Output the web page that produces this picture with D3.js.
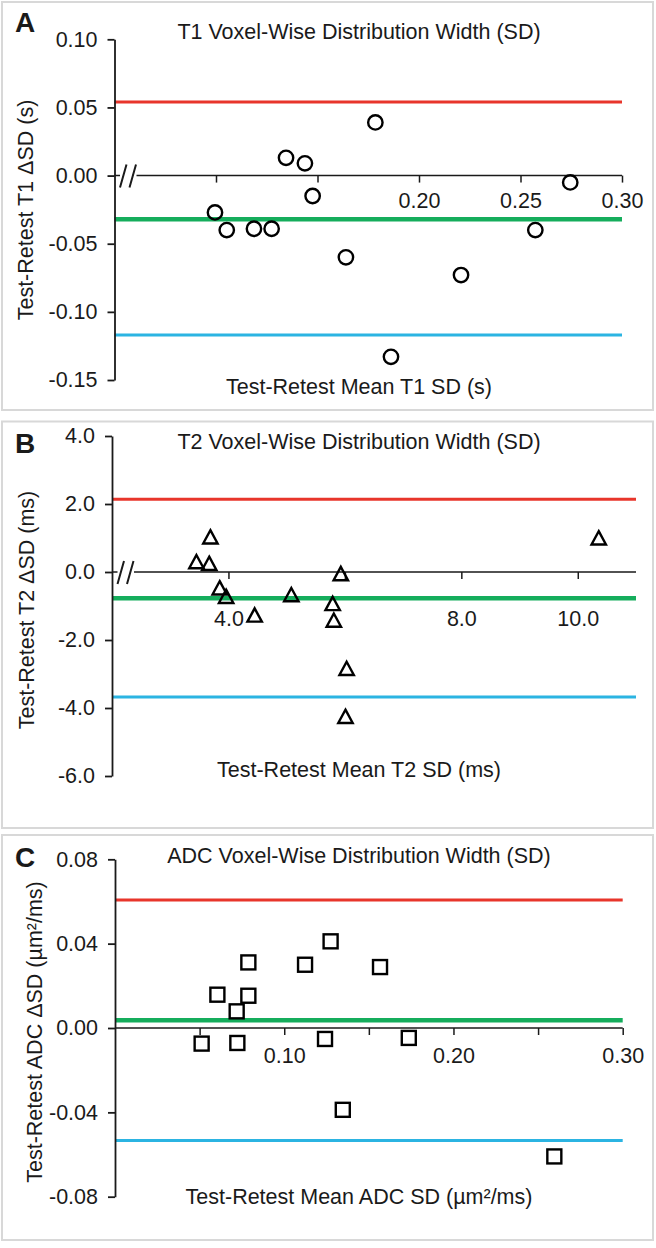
<!DOCTYPE html>
<html>
<head>
<meta charset="utf-8">
<script src="https://cdn.jsdelivr.net/npm/d3@7"></script>
<style>
body { margin: 0; background: #fff; }
text { font-family: "Liberation Sans", Arial, sans-serif; fill: #1a1a1a; }
</style>
</head>
<body>
<div id="chart"></div>
<script>
// A: T1 (s)
const t1Mean = [0.0995, 0.1053, 0.1187, 0.1274, 0.1345, 0.1438, 0.1476, 0.1785, 0.1640, 0.2207, 0.2573, 0.2745, 0.1862];
const t1Diff = [-0.027, -0.040, -0.039, -0.039, 0.013, 0.009, -0.015, 0.039, -0.060, -0.073, -0.040, -0.005, -0.133];
const t1Limits = [0.054, -0.032, -0.117];   // upper LoA, bias, lower LoA
const t1XTicks = [0.10, 0.15, 0.20, 0.25, 0.30];
const t1XLabels = ["", "", "0.20", "0.25", "0.30"];
const t1YTicks = [-0.15, -0.10, -0.05, 0.00, 0.05, 0.10];

// B: T2 (ms)
const t2Mean = [3.69, 3.45, 3.67, 3.85, 3.96, 4.45, 5.08, 5.93, 5.79, 5.81, 6.03, 6.01, 10.36];
const t2Diff = [1.01, 0.28, 0.23, -0.49, -0.74, -1.29, -0.69, -0.07, -0.95, -1.44, -2.86, -4.27, 0.98];
const t2Limits = [2.14, -0.77, -3.68];
const t2XTicks = [4, 6, 8, 10];
const t2XLabels = ["4.0", "", "8.0", "10.0"];
const t2YTicks = [-6, -4, -2, 0, 2, 4];

// C: ADC (µm²/ms)
const adcMean = [0.0512, 0.0605, 0.0719, 0.0788, 0.0788, 0.0723, 0.1123, 0.1274, 0.1241, 0.1566, 0.1736, 0.1346, 0.2596];
const adcDiff = [-0.0074, 0.0158, 0.0079, 0.0153, 0.0311, -0.0071, 0.0300, 0.0411, -0.0052, 0.0289, -0.0047, -0.0388, -0.0609];
const adcLimits = [0.0607, 0.0037, -0.0533];
const adcXTicks = [0.05, 0.10, 0.15, 0.20, 0.25, 0.30];
const adcXLabels = ["", "0.10", "", "0.20", "", "0.30"];
const adcYTicks = [-0.08, -0.04, 0.00, 0.04, 0.08];

const limitColors = ["#e8352b", "#15ad5c", "#2bb4e2"];
const limitWidths = [3, 4.5, 3];

const svg = d3.select("#chart").append("svg")
    .attr("width", 656)
    .attr("height", 1248);

const panels = [
    {
        box: [2, 2, 651, 408], letter: "A", letterY: 32,
        title: "T1 Voxel-Wise Distribution Width (SD)", titleY: 39,
        xLabel: "Test-Retest Mean T1 SD (s)", xLabelY: 394,
        yLabel: "Test-Retest T1 \u0394SD (s)", yLabelX: 33, yLabelY: 210,
        x: d3.scaleLinear().domain([0.05, 0.30]).range([114.5, 622]),
        y: d3.scaleLinear().domain([-0.15, 0.10]).range([380, 39.3]),
        xTicks: t1XTicks, xLabels: t1XLabels, xPad: 10,
        yTicks: t1YTicks, digits: 2,
        mean: t1Mean, diff: t1Diff, limits: t1Limits,
        shape: "circle", brk: true
    },
    {
        box: [2, 421.5, 651, 406.5], letter: "B", letterY: 453,
        title: "T2 Voxel-Wise Distribution Width (SD)", titleY: 449,
        xLabel: "Test-Retest Mean T2 SD (ms)", xLabelY: 777,
        yLabel: "Test-Retest T2 \u0394SD (ms)", yLabelX: 34, yLabelY: 610,
        x: d3.scaleLinear().domain([2, 11]).range([112, 636]),
        y: d3.scaleLinear().domain([-6, 4]).range([776, 436]),
        xTicks: t2XTicks, xLabels: t2XLabels, xPad: 32,
        yTicks: t2YTicks, digits: 1,
        mean: t2Mean, diff: t2Diff, limits: t2Limits,
        shape: "triangle", brk: true
    },
    {
        box: [2, 835, 651, 405], letter: "C", letterY: 867,
        title: "ADC Voxel-Wise Distribution Width (SD)", titleY: 863,
        xLabel: "Test-Retest Mean ADC SD (\u00b5m\u00b2/ms)", xLabelY: 1204,
        yLabel: "Test-Retest ADC \u0394SD (\u00b5m\u00b2/ms)", yLabelX: 42, yLabelY: 1032,
        x: d3.scaleLinear().domain([0, 0.30]).range([115, 622.7]),
        y: d3.scaleLinear().domain([-0.08, 0.08]).range([1196.7, 859.3]),
        xTicks: adcXTicks, xLabels: adcXLabels, xPad: 12.5,
        yTicks: adcYTicks, digits: 2,
        mean: adcMean, diff: adcDiff, limits: adcLimits,
        shape: "square", brk: false
    }
];

// plain hyphen for negatives, no "-0.00"
function fmt(d, digits) {
    if (Math.abs(d) < 1e-9) return (0).toFixed(digits);
    return d.toFixed(digits);
}

function drawPanel(p) {
    const g = svg.append("g");
    const x = p.x, y = p.y;
    const [x0, x1] = x.range();

    g.append("rect")
        .attr("x", p.box[0]).attr("y", p.box[1])
        .attr("width", p.box[2]).attr("height", p.box[3])
        .attr("fill", "#fff").attr("stroke", "#d8d8d8").attr("stroke-width", 2);

    g.append("text").text(p.letter)
        .attr("x", 15).attr("y", p.letterY)
        .attr("font-size", 28).attr("font-weight", "bold");

    g.append("text").text(p.title)
        .attr("x", 359).attr("y", p.titleY)
        .attr("text-anchor", "middle").attr("font-size", 21.5);

    g.append("text").text(p.xLabel)
        .attr("x", 359).attr("y", p.xLabelY)
        .attr("text-anchor", "middle").attr("font-size", 21.5);

    g.append("text").text(p.yLabel)
        .attr("transform", `translate(${p.yLabelX},${p.yLabelY}) rotate(-90)`)
        .attr("text-anchor", "middle").attr("font-size", 21.5);

    // limits of agreement
    g.selectAll(".lim").data(p.limits).join("line")
        .attr("x1", x0).attr("x2", x1)
        .attr("y1", d => y(d)).attr("y2", d => y(d))
        .attr("stroke", (d, i) => limitColors[i])
        .attr("stroke-width", (d, i) => limitWidths[i]);

    // y axis
    const yAxis = g.append("g")
        .attr("transform", `translate(${x0},0)`)
        .call(d3.axisLeft(y).tickValues(p.yTicks).tickSize(7).tickSizeOuter(0).tickPadding(10)
            .tickFormat(d => fmt(d, p.digits)));
    yAxis.selectAll("path, line").attr("stroke", "#1a1a1a").attr("stroke-width", 1.8);
    yAxis.selectAll("text").attr("font-size", 21.5).attr("fill", "#1a1a1a")
        .attr("font-family", "Liberation Sans, Arial, sans-serif");

    // x axis sitting on zero
    const xAxis = g.append("g")
        .attr("transform", `translate(0,${y(0)})`)
        .call(d3.axisBottom(x).tickValues(p.xTicks).tickSize(7).tickPadding(p.xPad)
            .tickFormat((d, i) => p.xLabels[i]));
    xAxis.select(".domain").remove();
    xAxis.selectAll("line").attr("stroke", "#1a1a1a").attr("stroke-width", 1.5);
    xAxis.selectAll("text").attr("font-size", 21.5).attr("fill", "#1a1a1a")
        .attr("font-family", "Liberation Sans, Arial, sans-serif");

    const base = xAxis.append("g").attr("stroke", "#1a1a1a").attr("stroke-width", 1.5).attr("fill", "none");
    if (p.brk) {
        base.append("path").attr("d", `M${x0},0H${x0 + 5.5}M${x0 + 22},0H${x1}`);
        base.append("path").attr("stroke-width", 2)
            .attr("d", `M${x0 + 5.5},12L${x0 + 12},-11M${x0 + 15},12L${x0 + 21.5},-11`);
    } else {
        base.append("path").attr("d", `M${x0},0H${x1}`);
    }

    // points
    const pts = p.mean.map((m, i) => ({ m: m, d: p.diff[i] }));
    const marks = g.append("g").attr("fill", "none").attr("stroke", "#000").attr("stroke-width", 2.4);
    if (p.shape === "circle") {
        marks.selectAll("circle").data(pts).join("circle")
            .attr("cx", d => x(d.m)).attr("cy", d => y(d.d)).attr("r", 7.2);
    } else if (p.shape === "triangle") {
        marks.selectAll("path").data(pts).join("path")
            .attr("d", d => `M${x(d.m)},${y(d.d) - 7.5}L${x(d.m) + 7.2},${y(d.d) + 5.8}L${x(d.m) - 7.2},${y(d.d) + 5.8}Z`);
    } else {
        marks.selectAll("rect").data(pts).join("rect")
            .attr("x", d => x(d.m) - 7).attr("y", d => y(d.d) - 7)
            .attr("width", 14).attr("height", 14);
    }
}

panels.forEach(drawPanel);
</script>
</body>
</html>
